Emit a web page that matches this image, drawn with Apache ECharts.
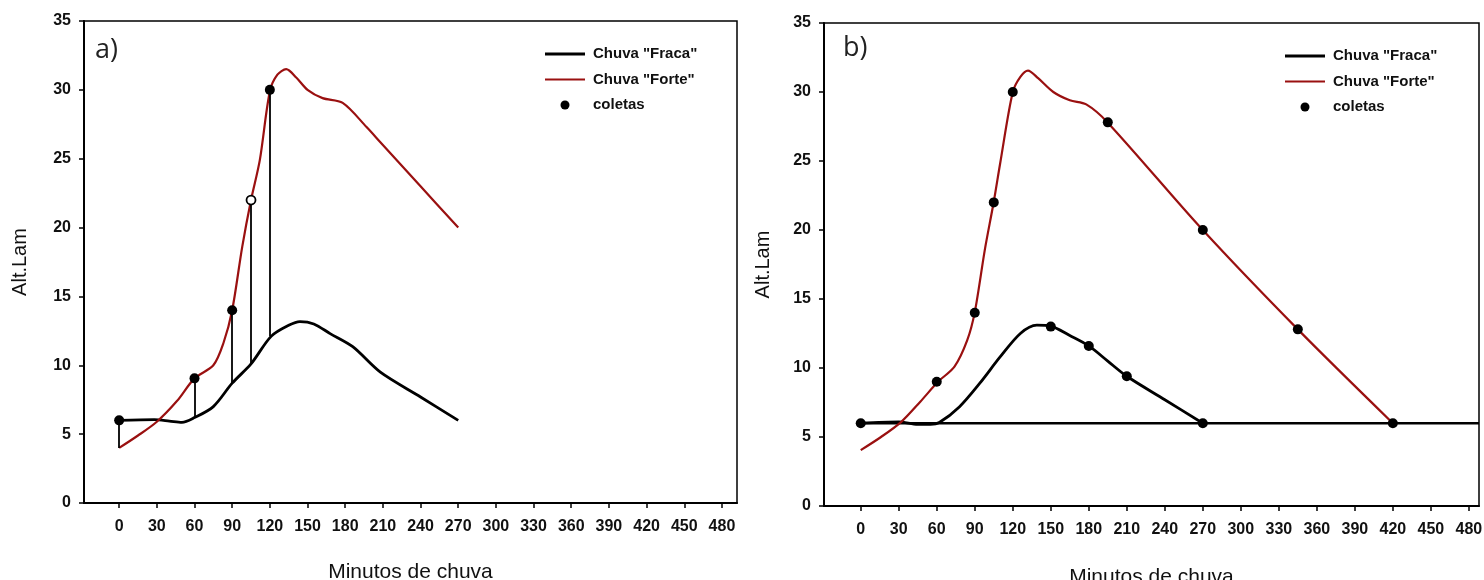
<!DOCTYPE html>
<html>
<head>
<meta charset="utf-8">
<script src="https://cdn.jsdelivr.net/npm/echarts@6/dist/echarts.min.js"></script>
<style>
html,body{margin:0;padding:0;background:#fff;}
#chart{width:1484px;height:580px;}
</style>
</head>
<body>
<div id="chart"></div>
<script>
// ---- data ----
var xTickValues = [0, 30, 60, 90, 120, 150, 180, 210, 240, 270, 300, 330, 360, 390, 420, 450, 480];
var seriesNames = ['Chuva "Fraca"', 'Chuva "Forte"', 'coletas'];
var panelLabels = ['a)', 'b)'];
var xAxisName = 'Minutos de chuva';
var yAxisName = 'Alt.Lam';

// panel a
var aFracaTime  = [0, 28, 40, 50, 60, 75, 90, 105, 121, 135, 144, 155, 168, 186, 208, 240, 270];
var aFracaValue = [6.0, 6.05, 5.95, 5.85, 6.2, 7.0, 8.7, 10.1, 12.1, 12.9, 13.17, 13.0, 12.3, 11.35, 9.5, 7.7, 6.0];
var aForteTime  = [0, 15, 30, 46, 60, 75, 83, 90, 98, 105, 112, 120, 126, 133, 141, 150, 162, 178, 197, 208, 240, 270];
var aForteValue = [4.0, 4.9, 5.9, 7.4, 9.05, 10.0, 11.6, 14.0, 18.6, 22.0, 24.9, 29.9, 31.1, 31.5, 30.9, 30.0, 29.4, 29.05, 27.3, 26.2, 23.0, 20.0];
var aColetaTime  = [0, 60, 90, 120];
var aColetaValue = [6.0, 9.05, 14.0, 30.0];
var aOpenTime  = [105];
var aOpenValue = [22.0];
var aDropTime   = [0, 60, 90, 105, 120];
var aDropTop    = [6.0, 9.05, 14.0, 22.0, 30.0];
var aDropBottom = [4.0, 6.2, 8.7, 10.1, 12.1];

// panel b
var bBaseTime  = [0, 488];
var bBaseValue = [6.0, 6.0];
var bFracaTime  = [0, 30, 45, 55, 62, 78, 94, 110, 126, 139, 150, 165, 180, 195, 210, 240, 270];
var bFracaValue = [6.0, 6.1, 5.92, 5.92, 6.05, 7.2, 8.9, 10.8, 12.5, 13.1, 13.04, 12.35, 11.6, 10.5, 9.4, 7.7, 6.0];
var bForteTime  = [0, 16, 32, 47, 61, 74, 84, 90, 98, 105, 110, 120, 126, 132, 140, 152, 165, 178, 195, 270, 345, 420];
var bForteValue = [4.05, 5.0, 6.1, 7.56, 9.0, 10.1, 12.0, 14.05, 18.6, 22.05, 24.8, 30.0, 31.1, 31.55, 31.0, 30.0, 29.4, 29.1, 27.78, 20.0, 12.8, 6.0];
var bColetaTime  = [0, 60, 90, 105, 120, 150, 180, 195, 210, 270, 270, 345, 420];
var bColetaValue = [6.0, 9.0, 14.0, 22.0, 30.0, 13.0, 11.6, 27.8, 9.4, 20.0, 6.0, 12.8, 6.0];

function pairs(t, v) { return t.map(function (x, i) { return [x, v[i]]; }); }

var FONT = "'Liberation Sans', Arial, sans-serif";
var RED = '#9a1010';

var chart = echarts.init(document.getElementById('chart'), null, {renderer: 'canvas'});

function xAxisCfg(grid, min, max, gap) {
  return {
    type: 'value', gridIndex: grid, min: min, max: max,
    name: xAxisName, nameLocation: 'middle', nameGap: gap,
    nameTextStyle: {fontFamily: FONT, fontSize: 21, color: '#111'},
    axisLine: {show: true, onZero: false, lineStyle: {color: '#000', width: 2}},
    axisTick: {show: true, inside: false, length: 5, customValues: xTickValues, lineStyle: {color: '#000', width: 1.5}},
    axisLabel: {show: true, customValues: xTickValues, margin: 16, fontFamily: FONT, fontSize: 16, fontWeight: 'bold', color: '#111'},
    splitLine: {show: false}
  };
}
function yAxisCfg(grid, gap) {
  return {
    type: 'value', gridIndex: grid, min: 0, max: 35, interval: 5,
    name: yAxisName, nameLocation: 'middle', nameGap: gap, nameRotate: 90,
    nameTextStyle: {fontFamily: FONT, fontSize: 20, color: '#111'},
    axisLine: {show: true, onZero: false, lineStyle: {color: '#000', width: 2}},
    axisTick: {show: true, inside: false, length: 5, lineStyle: {color: '#000', width: 1.5}},
    axisLabel: {show: true, margin: 13, fontFamily: FONT, fontSize: 16, fontWeight: 'bold', color: '#111'},
    splitLine: {show: false}
  };
}
function legendCfg(left, top) {
  return {
    orient: 'vertical', left: left, top: top, padding: 0,
    itemWidth: 40, itemHeight: 9, itemGap: 9.5,
    data: [
      {name: seriesNames[0], icon: 'path://M0,0L40,0L40,3L0,3Z'},
      {name: seriesNames[1], icon: 'path://M0,0L40,0L40,2.2L0,2.2Z'},
      {name: seriesNames[2], icon: 'circle'}
    ],
    textStyle: {fontFamily: FONT, fontSize: 15, fontWeight: 'bold', color: '#111', lineHeight: 16, padding: [0, 0, 0, 3]},
    selectedMode: false
  };
}

var dropLines = aDropTime.map(function (t, i) {
  return [{coord: [t, aDropTop[i]]}, {coord: [t, aDropBottom[i]]}];
});

var option = {
  backgroundColor: '#fff',
  animation: false,
  title: [
    {text: panelLabels[0], left: 90, top: 32, textStyle: {fontFamily: "'Open Sans', 'Noto Sans', sans-serif", fontSize: 27, fontWeight: 'normal', color: '#222'}},
    {text: panelLabels[1], left: 838, top: 30, textStyle: {fontFamily: "'Open Sans', 'Noto Sans', sans-serif", fontSize: 27, fontWeight: 'normal', color: '#222'}}
  ],
  grid: [
    {left: 84, top: 21, width: 653, height: 482, outerBoundsMode: 'none', containLabel: false, show: true, borderColor: '#000', borderWidth: 1.5, backgroundColor: 'transparent'},
    {left: 824, top: 23, width: 655, height: 483, outerBoundsMode: 'none', containLabel: false, show: true, borderColor: '#000', borderWidth: 1.5, backgroundColor: 'transparent'}
  ],
  xAxis: [xAxisCfg(0, -28, 492, 59), xAxisCfg(1, -29, 488, 61)],
  yAxis: [yAxisCfg(0, 54), yAxisCfg(1, 51)],
  legend: [legendCfg(545, 46), legendCfg(1285, 48)],
  series: [
    // panel a
    {name: seriesNames[0], type: 'line', xAxisIndex: 0, yAxisIndex: 0, data: pairs(aFracaTime, aFracaValue),
      smooth: 0.3, symbol: 'none', lineStyle: {color: '#000', width: 2.8}, itemStyle: {color: '#000'}, z: 2},
    {name: seriesNames[1], type: 'line', xAxisIndex: 0, yAxisIndex: 0, data: pairs(aForteTime, aForteValue),
      smooth: 0.3, symbol: 'none', lineStyle: {color: RED, width: 2.2}, itemStyle: {color: RED}, z: 3},
    {name: seriesNames[2], type: 'scatter', xAxisIndex: 0, yAxisIndex: 0, data: pairs(aColetaTime, aColetaValue),
      symbol: 'circle', symbolSize: 10, itemStyle: {color: '#000', opacity: 1}, z: 5,
      markLine: {silent: true, symbol: ['none', 'none'], label: {show: false}, lineStyle: {color: '#000', width: 1.8, type: 'solid', opacity: 1}, data: dropLines}},
    {name: seriesNames[2], type: 'scatter', xAxisIndex: 0, yAxisIndex: 0, data: pairs(aOpenTime, aOpenValue),
      symbol: 'circle', symbolSize: 9, itemStyle: {color: '#fff', borderColor: '#000', borderWidth: 1.8, opacity: 1}, z: 6},
    // panel b
    {name: 'base', type: 'line', xAxisIndex: 1, yAxisIndex: 1, data: pairs(bBaseTime, bBaseValue),
      symbol: 'none', lineStyle: {color: '#000', width: 2.6}, z: 2},
    {name: seriesNames[0], type: 'line', xAxisIndex: 1, yAxisIndex: 1, data: pairs(bFracaTime, bFracaValue),
      smooth: 0.3, symbol: 'none', lineStyle: {color: '#000', width: 2.8}, itemStyle: {color: '#000'}, z: 2},
    {name: seriesNames[1], type: 'line', xAxisIndex: 1, yAxisIndex: 1, data: pairs(bForteTime, bForteValue),
      smooth: 0.3, symbol: 'none', lineStyle: {color: RED, width: 2.2}, itemStyle: {color: RED}, z: 3},
    {name: seriesNames[2], type: 'scatter', xAxisIndex: 1, yAxisIndex: 1, data: pairs(bColetaTime, bColetaValue),
      symbol: 'circle', symbolSize: 10, itemStyle: {color: '#000', opacity: 1}, z: 5}
  ]
};
chart.setOption(option);
</script>
</body>
</html>
